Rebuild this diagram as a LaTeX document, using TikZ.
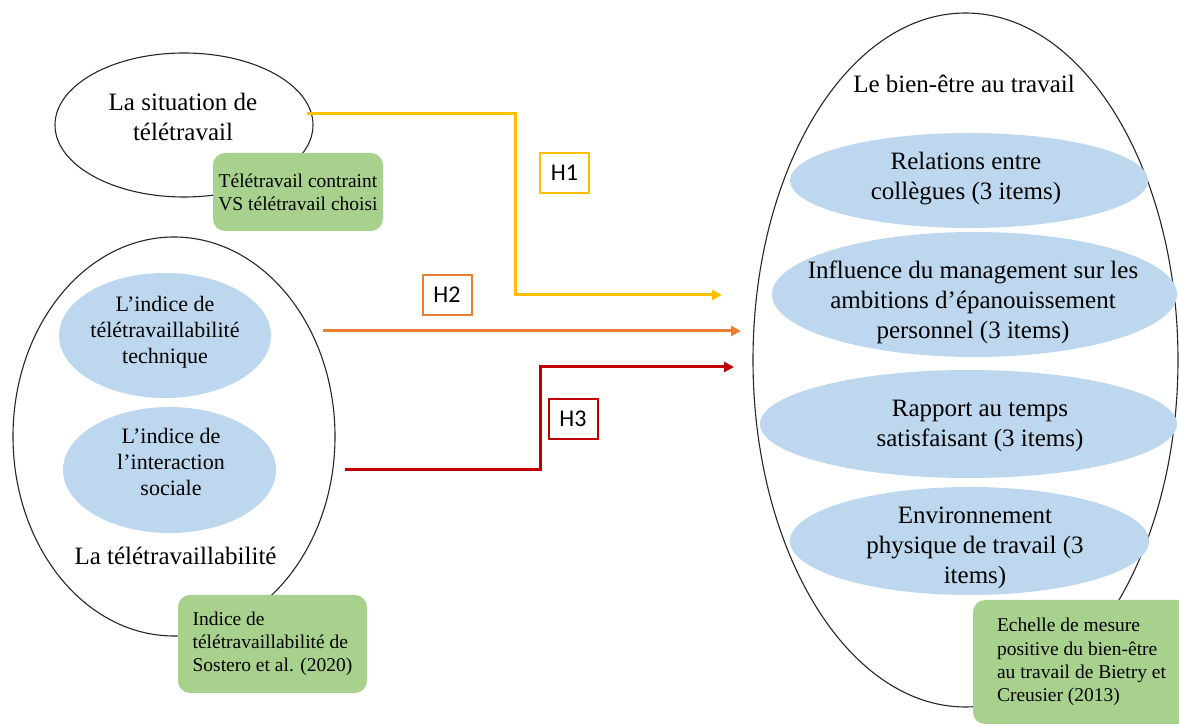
\documentclass[tikz,border=0pt]{standalone}
\usepackage{fontspec}
\setmainfont{Liberation Serif}
\newfontfamily\hfont{Carlito}
\usetikzlibrary{shapes.geometric,arrows.meta}
\definecolor{gboxc}{HTML}{A9D18E}
\definecolor{bellc}{HTML}{BDD7EE}
\definecolor{cyel}{HTML}{FFC000}
\definecolor{cora}{HTML}{ED7D31}
\definecolor{cred}{HTML}{C00000}
\begin{document}
\begin{tikzpicture}[x=0.5pt,y=-0.5pt,
  outl/.style={ellipse,draw=black!85,line width=0.55pt,fill=white,inner sep=0pt},
  bluel/.style={ellipse,fill=bellc,inner sep=0pt},
  gbx/.style={rectangle,rounded corners=6pt,fill=gboxc,inner sep=0pt,font=\rmfamily\fontsize{9.75}{11.6}\selectfont},
  mtxt/.style={rectangle,font=\rmfamily\fontsize{12.5}{15}\selectfont,align=center,inner sep=0pt},
  stxt/.style={rectangle,font=\rmfamily\fontsize{11}{13}\selectfont,align=center,inner sep=0pt},
  conn/.style={line width=1.5pt,-{Triangle[length=5pt,width=5pt]}},
  hbox/.style={rectangle,draw,line width=1pt,fill=white,minimum width=24.5pt,minimum height=20pt,inner sep=0pt,font=\hfont\fontsize{12}{14}\selectfont}]
\useasboundingbox (0,0) rectangle (1179,726);

% outer ellipses
\node[outl,minimum width=129pt,minimum height=72pt] (sit) at (184,125) {};
\node[outl,minimum width=161pt,minimum height=199.5pt] (tel) at (174,436.5) {};
\node[outl,minimum width=212.5pt,minimum height=347pt] (bien) at (965.5,360) {};

% texts of outer ellipses
\node[mtxt] (sitT) at (183,117) {La situation de\\télétravail};
\node[mtxt,anchor=base] (telT) at (175.5,565) {La télétravaillabilité};
\node[mtxt,anchor=base] (bienT) at (964,93) {Le bien-être au travail};

% left blue ellipses
\node[bluel,minimum width=106pt,minimum height=62.5pt] (ind1) at (165,335.5) {};
\node[stxt] (ind1T) at (165,332) {L’indice de\\télétravaillabilité\\technique};
\node[bluel,minimum width=106.5pt,minimum height=63pt] (ind2) at (169.5,470) {};
\node[stxt] (ind2T) at (171,462) {L’indice de\\l’interaction\\sociale};

% right blue ellipses
\node[bluel,minimum width=179pt,minimum height=47.5pt] (r1) at (969,180.5) {};
\node[mtxt] (r1T) at (966,179) {Relations entre\\collègues (3 items)};
\node[bluel,minimum width=202.5pt,minimum height=62.5pt] (r2) at (974.5,294.5) {};
\node[mtxt] (r2T) at (973,302) {Influence du management sur les\\ambitions d’épanouissement\\personnel (3 items)};
\node[bluel,minimum width=208.5pt,minimum height=54pt] (r3) at (968.5,424) {};
\node[mtxt] (r3T) at (980,426) {Rapport au temps\\satisfaisant (3 items)};
\node[bluel,minimum width=179.5pt,minimum height=54pt] (r4) at (969.5,541) {};
\node[mtxt] (r4T) at (975,548) {Environnement\\physique de travail (3\\items)};

% green boxes
\node[gbx,align=center,minimum width=85pt,minimum height=39pt] (g1) at (298,192) {Télétravail contraint\\VS télétravail choisi};
\node[gbx,align=left,minimum width=94.5pt,minimum height=49pt] (g2) at (272.5,644) {Indice de\\télétravaillabilité de\\Sostero et al. (2020)};
\node[gbx,align=left,minimum width=108.5pt,minimum height=62pt] (g3) at (1081.5,662) {Echelle de mesure\\positive du bien-être\\au travail de Bietry et\\Creusier (2013)};

% connectors
\coordinate (h1s) at (307,114);
\coordinate (h1k) at (515,295);
\coordinate (h1e) at (722,295);
\coordinate (h2s) at (323,331);
\coordinate (h2e) at (741,331);
\coordinate (h3s) at (345,470);
\coordinate (h3k) at (540,367);
\coordinate (h3e) at (734,367);
\draw[conn,cyel] (h1s) -| (h1k) -- (h1e);
\draw[conn,cora] (h2s) -- (h2e);
\draw[conn,cred] (h3s) -| (h3k) -- (h3e);

% hypothesis labels
\node[hbox,draw=cyel] (H1) at (564.5,173) {H1};
\node[hbox,draw=cora] (H2) at (447,295) {H2};
\node[hbox,draw=cred] (H3) at (573,419) {H3};
\end{tikzpicture}
\end{document}
